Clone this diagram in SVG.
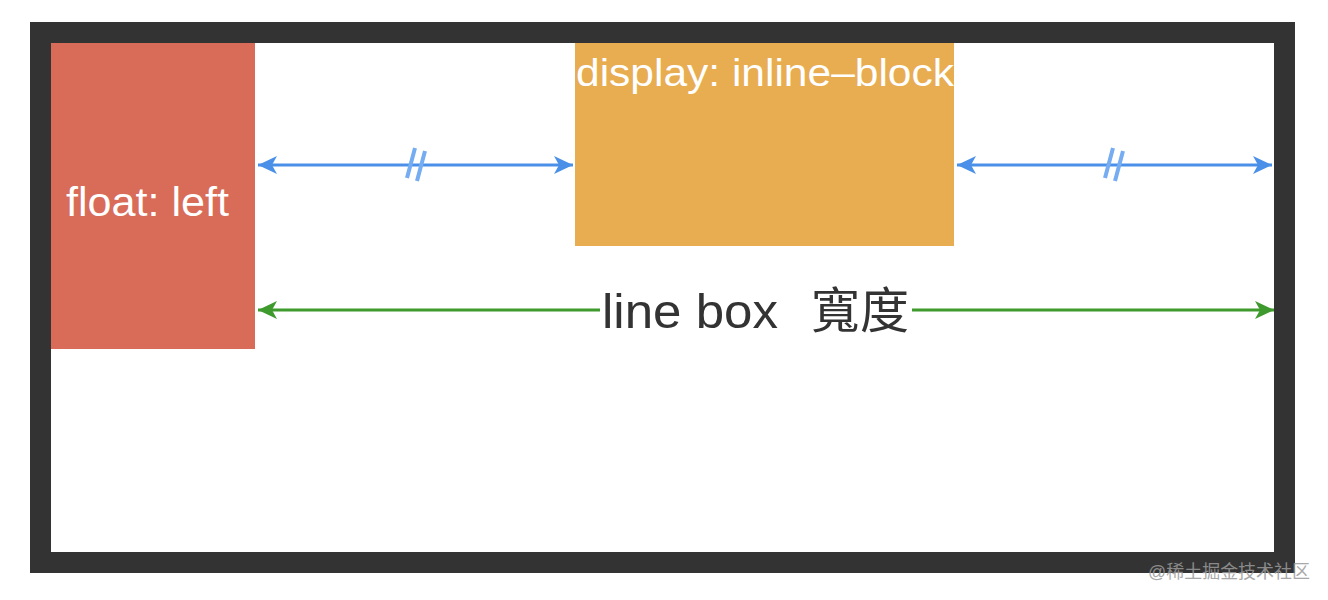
<svg xmlns="http://www.w3.org/2000/svg" width="1328" height="600" viewBox="0 0 1328 600">
<style>
.lbl{font-family:"Liberation Sans","Noto Sans CJK TC",sans-serif;}
.w{fill:#ffffff;}
.blue{stroke:#4A90E8;stroke-width:3;fill:none;}
.hash{stroke:#76ACF2;stroke-width:4;fill:none;}
.green{stroke:#3F9A2D;stroke-width:3;fill:none;}
</style>
<defs>
<marker id="ab" viewBox="0 0 20 20" refX="19" refY="10" markerWidth="20" markerHeight="20" markerUnits="userSpaceOnUse" orient="auto-start-reverse">
<path d="M0,1 L19,10 L0,19 L5,10 Z" fill="#4A90E8"/>
</marker>
<marker id="ag" viewBox="0 0 20 20" refX="19" refY="10" markerWidth="20" markerHeight="20" markerUnits="userSpaceOnUse" orient="auto-start-reverse">
<path d="M0,1 L19,10 L0,19 L5,10 Z" fill="#3F9A2D"/>
</marker>
</defs>
<rect width="1328" height="600" fill="#ffffff"/>
<g id="frame">
<rect x="40.5" y="32.5" width="1244" height="530" fill="#ffffff" stroke="#333333" stroke-width="21"/>
</g>
<g id="float">
<rect x="51" y="43" width="204" height="306" fill="#D96B59"/>
<text class="lbl w" x="66" y="216" font-size="40" textLength="163" lengthAdjust="spacingAndGlyphs">float: left</text>
</g>
<g id="inline-block">
<rect x="575" y="43" width="379" height="203" fill="#E8AC51"/>
<text class="lbl w" x="576" y="86" font-size="39" textLength="378" lengthAdjust="spacingAndGlyphs">display: inline–block</text>
</g>
<g id="connectors">
<line class="blue" x1="258" y1="165" x2="573" y2="165" marker-start="url(#ab)" marker-end="url(#ab)"/>
<line class="hash" x1="407" y1="178" x2="415" y2="148"/>
<line class="hash" x1="417" y1="181" x2="425" y2="151"/>
<line class="blue" x1="957" y1="165" x2="1272" y2="165" marker-start="url(#ab)" marker-end="url(#ab)"/>
<line class="hash" x1="1105" y1="178" x2="1113" y2="148"/>
<line class="hash" x1="1115" y1="181" x2="1123" y2="151"/>
<line class="green" x1="258" y1="310" x2="600" y2="310" marker-start="url(#ag)"/>
<line class="green" x1="912" y1="310" x2="1274" y2="310" marker-end="url(#ag)"/>
</g>
<g id="linebox-label">
<text class="lbl" x="602" y="328" font-size="49" fill="#333333" textLength="176" lengthAdjust="spacingAndGlyphs">line box</text>
<text class="lbl" x="811" y="328" font-size="49" fill="#333333">寬度</text>
</g>
<g id="watermark">
<text class="lbl" x="1148" y="578" font-size="18" fill="#9a9a9a" opacity="0.85" textLength="162" lengthAdjust="spacingAndGlyphs">@稀土掘金技术社区</text>
</g>
</svg>
